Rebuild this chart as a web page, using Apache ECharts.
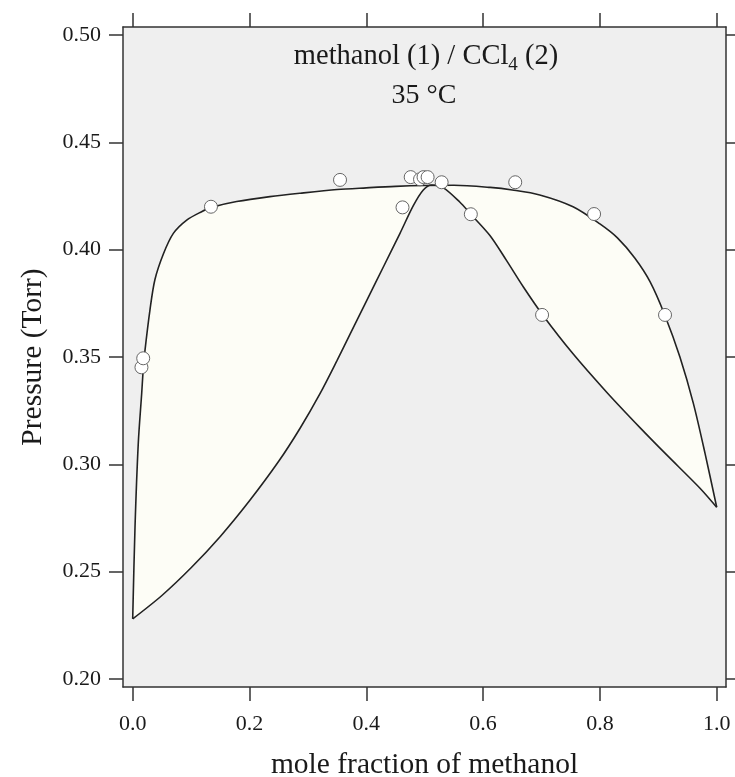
<!DOCTYPE html>
<html>
<head>
<meta charset="utf-8">
<script src="https://cdn.jsdelivr.net/npm/echarts@6/dist/echarts.min.js"></script>
<style>html,body{margin:0;padding:0;background:#fff}#c{width:735px;height:777px}</style>
</head>
<body>
<div id="c"></div>
<script>
// Bubble-point curve (P vs liquid mole fraction)
var upperX = [0, 0.004, 0.0096, 0.0154, 0.018, 0.021, 0.0296, 0.038, 0.0525, 0.0696, 0.0925, 0.118, 0.135, 0.178, 0.235, 0.287, 0.35, 0.40, 0.45, 0.50, 0.55, 0.612, 0.65, 0.697, 0.754, 0.80, 0.83, 0.86, 0.886, 0.911, 0.937, 0.96, 0.98, 1.0];
var upperP = [0.228, 0.271, 0.310, 0.333, 0.344, 0.353, 0.372, 0.386, 0.398, 0.4076, 0.4138, 0.4177, 0.4197, 0.4224, 0.4247, 0.4263, 0.4280, 0.4288, 0.4295, 0.4299, 0.4300, 0.4290, 0.4278, 0.4255, 0.4200, 0.4120, 0.4055, 0.3960, 0.3850, 0.3696, 0.350, 0.3284, 0.3051, 0.280];
// Dew-point curve (P vs vapour mole fraction)
var lowerX = [0, 0.05, 0.10, 0.15, 0.20, 0.25, 0.2866, 0.3207, 0.35, 0.372, 0.40, 0.43, 0.4577, 0.4805, 0.4976, 0.512, 0.532, 0.560, 0.579, 0.612, 0.640, 0.669, 0.702, 0.754, 0.812, 0.869, 0.914, 0.971, 1.0];
var lowerP = [0.228, 0.2389, 0.2518, 0.2664, 0.2830, 0.3014, 0.3168, 0.3329, 0.3484, 0.3605, 0.3759, 0.3924, 0.4076, 0.4205, 0.4278, 0.4301, 0.4288, 0.4222, 0.4165, 0.4065, 0.3950, 0.3826, 0.3696, 0.3515, 0.3335, 0.3170, 0.3045, 0.2890, 0.280];
// Measured points
var ptsX = [0.015, 0.018, 0.134, 0.355, 0.462, 0.476, 0.492, 0.498, 0.505, 0.529, 0.579, 0.655, 0.701, 0.790, 0.9115];
var ptsP = [0.3452, 0.3494, 0.4200, 0.4325, 0.4197, 0.4338, 0.4328, 0.4338, 0.4338, 0.4314, 0.4165, 0.4314, 0.3696, 0.4166, 0.3696];
// Tick values
var xTicks = [0, 0.2, 0.4, 0.6, 0.8, 1.0];
var yTicks = [0.20, 0.25, 0.30, 0.35, 0.40, 0.45, 0.50];

function zip(a, b) { return a.map(function (v, i) { return [v, b[i]]; }); }
var upperData = zip(upperX, upperP);
var lowerData = zip(lowerX, lowerP);
var ptsData = zip(ptsX, ptsP);

var FONT = 'Liberation Serif';
var XMIN = -0.0166, XMAX = 1.0159, YMIN = 0.19627, YMAX = 0.50373;
var lineC = '#333';

function axisBase(pos) {
  return {
    type: 'value', position: pos,
    axisLine: { show: true, onZero: false, lineStyle: { color: lineC, width: 1.5 } },
    axisTick: { show: true, inside: false, length: 14, lineStyle: { color: lineC, width: 1.5 } },
    splitLine: { show: false }
  };
}
var xb = axisBase('bottom');
xb.min = XMIN; xb.max = XMAX;
xb.axisTick.customValues = xTicks;
xb.axisLabel = { customValues: xTicks, formatter: function (v) { return v.toFixed(1); }, fontFamily: FONT, fontSize: 22, color: '#1a1a1a', margin: 26 };
xb.name = 'mole fraction of methanol'; xb.nameLocation = 'middle'; xb.nameGap = 63;
xb.nameTextStyle = { fontFamily: FONT, fontSize: 29.5, color: '#1a1a1a' };

var xt = axisBase('top');
xt.min = XMIN; xt.max = XMAX;
xt.axisTick.customValues = xTicks;
xt.axisLabel = { show: false };

var yl = axisBase('left');
yl.min = YMIN; yl.max = YMAX;
yl.axisTick.customValues = yTicks;
yl.axisLabel = { customValues: yTicks, formatter: function (v) { return v.toFixed(2); }, fontFamily: FONT, fontSize: 22, color: '#1a1a1a', margin: 22 };
yl.name = 'Pressure (Torr)'; yl.nameLocation = 'middle'; yl.nameGap = 75;
yl.nameTextStyle = { fontFamily: FONT, fontSize: 29.5, color: '#1a1a1a' };

var yr = axisBase('right');
yr.min = YMIN; yr.max = YMAX;
yr.axisTick.customValues = yTicks;
yr.axisLabel = { show: false };

var chart = echarts.init(document.getElementById('c'), null, { renderer: 'canvas' });
chart.setOption({
  animation: false,
  backgroundColor: '#ffffff',
  grid: { left: 123, right: 9, top: 27, bottom: 90, show: true, backgroundColor: '#efefef', borderWidth: 0, outerBoundsMode: 'none', containLabel: false },
  xAxis: [xb, xt],
  yAxis: [yl, yr],
  graphic: [
    { type: 'text', x: 426, y: 57, z: 100,
      style: { text: '{a|methanol (1) / CCl}{s|4}{a| (2)}', textAlign: 'center', textVerticalAlign: 'middle',
        rich: { a: { fontFamily: FONT, fontSize: 28.5, fill: '#1a1a1a', lineHeight: 36, verticalAlign: 'middle' },
                s: { fontFamily: FONT, fontSize: 19, fill: '#1a1a1a', lineHeight: 36, padding: [16, 0, 0, 0], verticalAlign: 'bottom' } } } },
    { type: 'text', x: 424, y: 96, z: 100,
      style: { text: '35 °C', textAlign: 'center', textVerticalAlign: 'middle', fontFamily: FONT, fontSize: 28, fill: '#1a1a1a' } }
  ],
  series: [
    {
      type: 'custom', xAxisIndex: 0, yAxisIndex: 0, data: [[0.5, 0.3]], silent: true, z: 1,
      renderItem: function (params, api) {
        var pts = [];
        upperData.forEach(function (d) { pts.push(api.coord(d)); });
        for (var i = lowerData.length - 1; i >= 0; i--) pts.push(api.coord(lowerData[i]));
        return { type: 'polygon', shape: { points: pts, smooth: 0 }, style: { fill: '#fdfdf6', stroke: null } };
      }
    },
    { type: 'line', data: upperData, smooth: 0.3, showSymbol: false, symbol: 'none', z: 2,
      lineStyle: { color: '#222', width: 1.6 } },
    { type: 'line', data: lowerData, smooth: 0.3, showSymbol: false, symbol: 'none', z: 2,
      lineStyle: { color: '#222', width: 1.6 } },
    { type: 'scatter', data: ptsData, symbol: 'circle', symbolSize: 13, z: 3,
      itemStyle: { color: '#ffffff', borderColor: '#666', borderWidth: 1, opacity: 1 } }
  ]
});
</script>
</body>
</html>
